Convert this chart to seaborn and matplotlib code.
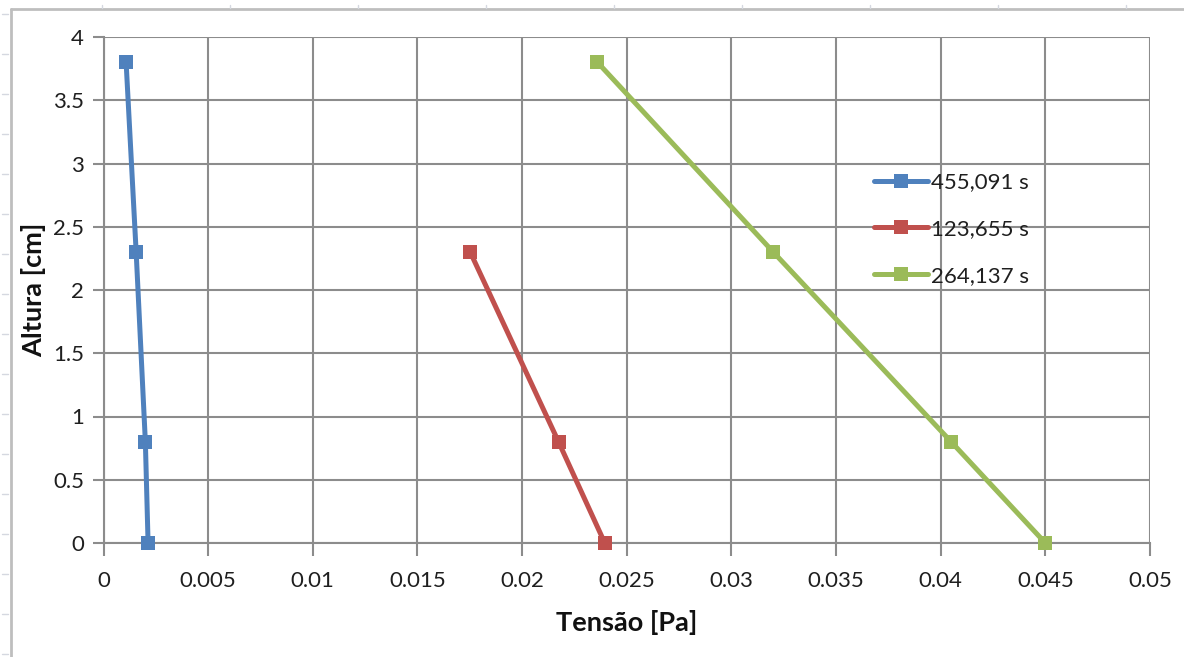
import matplotlib
matplotlib.use("Agg")
import matplotlib.pyplot as plt
from matplotlib.lines import Line2D
import seaborn as sns
import pandas as pd

# Shear stress profiles along the column height for three elapsed times
series_labels = ["455,091 s", "123,655 s", "264,137 s"]
tensao_455 = [0.00108, 0.00156, 0.00200, 0.00213]
altura_455 = [3.8, 2.3, 0.8, 0.0]
tensao_123 = [0.01752, 0.02174, 0.02395]
altura_123 = [2.3, 0.8, 0.0]
tensao_264 = [0.0236, 0.0320, 0.0405, 0.0450]
altura_264 = [3.8, 2.3, 0.8, 0.0]

x_ticks = [0, 0.005, 0.01, 0.015, 0.02, 0.025, 0.03, 0.035, 0.04, 0.045, 0.05]
x_tick_labels = ["0", "0.005", "0.01", "0.015", "0.02", "0.025", "0.03", "0.035", "0.04", "0.045", "0.05"]
y_ticks = [0, 0.5, 1, 1.5, 2, 2.5, 3, 3.5, 4]
y_tick_labels = ["0", "0.5", "1", "1.5", "2", "2.5", "3", "3.5", "4"]

colors = ["#4F81BD", "#C0504D", "#9BBB59"]

frames = []
for label, xs, ys in zip(series_labels,
                         [tensao_455, tensao_123, tensao_264],
                         [altura_455, altura_123, altura_264]):
    frames.append(pd.DataFrame({"Tensão": xs, "Altura": ys, "Série": label}))
df = pd.concat(frames, ignore_index=True)

sns.set_theme(style="white")
plt.rcParams["font.family"] = ["Lato", "DejaVu Sans"]

fig = plt.figure(figsize=(11.84, 6.57), dpi=100)
ax = fig.add_axes([103.5 / 1184, 1 - 543 / 657, (1150 - 103.5) / 1184, (543 - 37) / 657])

sns.lineplot(data=df, x="Tensão", y="Altura", hue="Série", hue_order=series_labels,
             palette=colors, style="Série", markers=["s", "s", "s"], dashes=False,
             sort=False, linewidth=3.6, markersize=10.5, markeredgewidth=0,
             ax=ax, zorder=3)
for line in ax.get_lines():
    line.set_clip_on(False)

grid_color = "#8C8C8C"
ax.set_xlim(0, 0.05)
ax.set_ylim(0, 4)
ax.set_xticks(x_ticks)
ax.set_xticklabels(x_tick_labels)
ax.set_yticks(y_ticks)
ax.set_yticklabels(y_tick_labels)
ax.grid(True, color=grid_color, linewidth=1.5)
ax.set_axisbelow(True)
for side in ["top", "right"]:
    ax.spines[side].set_visible(False)
for side in ["left", "bottom"]:
    ax.spines[side].set_color(grid_color)
    ax.spines[side].set_linewidth(1.5)
ax.tick_params(axis="x", direction="out", length=9, width=1.5, color=grid_color,
               pad=11, labelsize=16, labelcolor="#1F1F1F")
ax.tick_params(axis="y", direction="out", length=8, width=1.5, color=grid_color,
               pad=6, labelsize=16, labelcolor="#1F1F1F")
ax.tick_params(bottom=True, left=True)

ax.set_xlabel("Tensão [Pa]", fontsize=19.5, fontweight="bold", color="#111111", labelpad=14)
ax.set_ylabel("Altura [cm]", fontsize=19.5, fontweight="bold", color="#111111")
ax.yaxis.set_label_coords(-0.055, 0.5)

leg = ax.legend(loc="upper left", bbox_to_anchor=(0.728, 0.75), frameon=False,
                fontsize=16, handlelength=2.4, handletextpad=0.15,
                labelspacing=1.2, borderaxespad=0)
for txt in leg.get_texts():
    txt.set_color("#1F1F1F")
for h in leg.get_lines():
    h.set_linewidth(3.6)

# Chart-area border and faint sheet marks around it
border = "#BEBEBE"
fig.add_artist(Line2D([10.5 / 1184, 10.5 / 1184], [0, 1 - 9 / 657],
                      transform=fig.transFigure, color=border, linewidth=2))
fig.add_artist(Line2D([10.5 / 1184, 1], [1 - 9 / 657, 1 - 9 / 657],
                      transform=fig.transFigure, color=border, linewidth=2))
for yp in range(14, 657, 40):
    fig.add_artist(Line2D([2 / 1184, 8 / 1184], [1 - yp / 657, 1 - yp / 657],
                          transform=fig.transFigure, color="#D5D8E0", linewidth=1))
for xp in range(102, 1184, 128):
    fig.add_artist(Line2D([xp / 1184, xp / 1184], [1 - 5 / 657, 1 - 8 / 657],
                          transform=fig.transFigure, color="#D5D8E0", linewidth=1))

fig.savefig("out.png", dpi=100)
